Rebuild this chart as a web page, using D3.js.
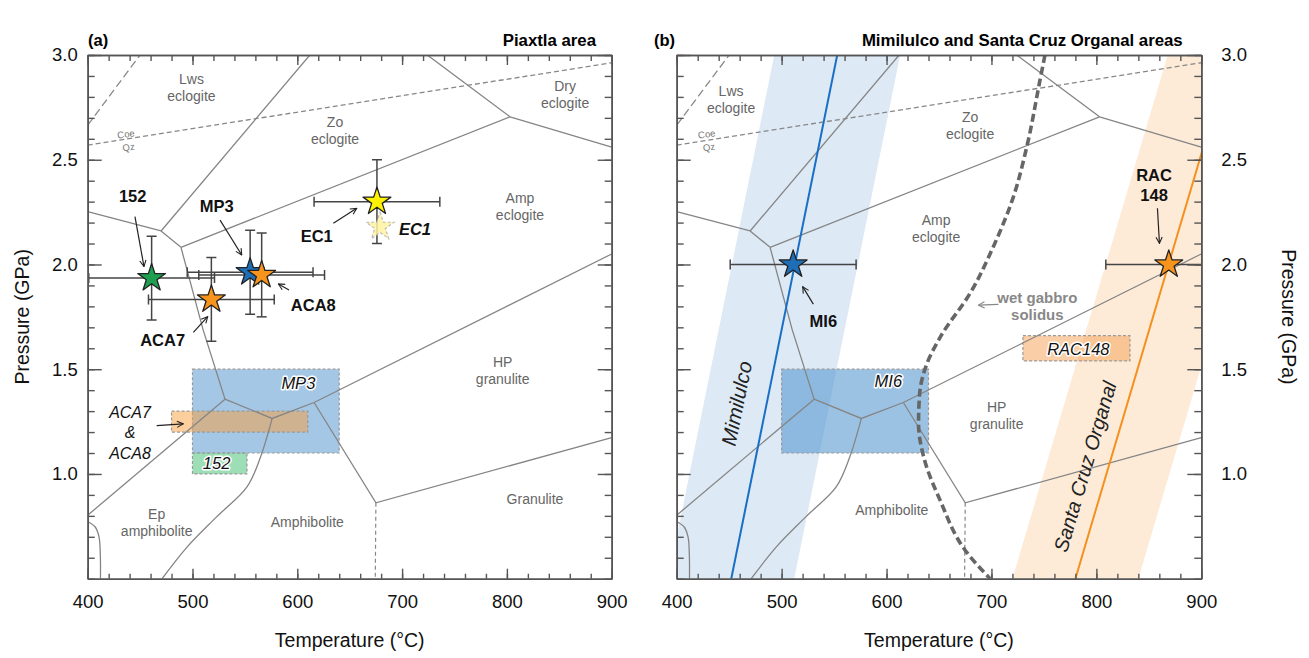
<!DOCTYPE html>
<html>
<head>
<meta charset="utf-8">
<script src="https://cdnjs.cloudflare.com/ajax/libs/d3/7.8.5/d3.min.js"></script>
<style>
  body { margin: 0; background: #fff; }
  svg text { font-family: "Liberation Sans", Arial, Helvetica, sans-serif; }
</style>
</head>
<body>
<svg id="chart" width="1309" height="658"></svg>
<script>
// ---- data (T in °C, P in GPa) ----
const tempTicks = [400, 500, 600, 700, 800, 900];
const pressTicks = [1.0, 1.5, 2.0, 2.5, 3.0];

// facies boundaries
const boundaries = [
  [[400, 2.252], [470, 2.16]],
  [[470, 2.16], [612, 3.0]],
  [[470, 2.16], [489, 2.082]],
  [[489, 2.082], [803, 2.705]],
  [[803, 2.705], [724, 3.0]],
  [[803, 2.705], [900, 2.56]],
  [[489, 2.082], [510, 1.69], [531, 1.357]],
  [[531, 1.357], [400, 0.803]],
  [[531, 1.357], [576, 1.265], [616, 1.341], [900, 2.05]],
  [[616, 1.341], [675, 0.862], [900, 1.174]]
];
const curvedBoundaries = [
  [[576, 1.265], [565, 1.082], [552, 0.938], [523, 0.795], [495, 0.652], [471, 0.5]],
  [[400, 0.772], [407, 0.748], [410.8, 0.7], [412, 0.62], [412.2, 0.5]]
];
const granuliteDashed = [[675, 0.862], [674.4, 0.5]];
const lwsDashed = [[400, 2.665], [450, 3.0]];
const coeQzLine = [[400, 2.57], [900, 2.963]];

const wetSolidus = [[751, 3.0], [746.3, 2.881], [733.7, 2.562], [720.9, 2.323], [701.8, 2.085],
  [679.6, 1.862], [652, 1.66], [638, 1.52], [631.5, 1.38], [630.5, 1.24], [636, 1.07],
  [651, 0.875], [674.9, 0.636], [698.7, 0.5]];

const mimilulcoGeotherm = [[452, 0.5], [553, 3.0]];
const santaCruzGeotherm = [[780, 0.5], [928, 3.0]];
const geothermSpread = 60;

// Piaxtla peak estimates
const piaxtlaNames = ["152", "ACA7", "MP3", "ACA8", "EC1"];
const piaxtlaT = [461, 518, 555, 566, 676];
const piaxtlaP = [1.935, 1.833, 1.963, 1.95, 2.30];
const piaxtlaErrT = [60, 60, 60, 60, 60];
const piaxtlaErrP = [0.2, 0.2, 0.2, 0.2, 0.2];
const ec1AltT = 679, ec1AltP = 2.18;

// Mimilulco / Santa Cruz Organal peak estimates
const otherNames = ["MI6", "RAC148"];
const otherT = [511, 869];
const otherP = [2.0, 2.0];
const otherErrT = [60, 60];

// retrograde boxes
const boxNamesA = ["MP3", "ACA7 & ACA8", "152"];
const boxTminA = [500, 480, 500], boxTmaxA = [640, 610, 552];
const boxPminA = [1.1, 1.2, 1.0], boxPmaxA = [1.5, 1.3, 1.1];
const boxNamesB = ["MI6", "RAC148"];
const boxTminB = [500, 730], boxTmaxB = [640, 832];
const boxPminB = [1.1, 1.54], boxPmaxB = [1.5, 1.66];

// ---- styles ----
const sampleColor = { "152": "#1e9e4f", "ACA7": "#f7941d", "MP3": "#1f6fb8", "ACA8": "#f7941d",
  "EC1": "#fff200", "MI6": "#1f6fb8", "RAC148": "#f7941d" };
const boxFill = { "MP3": "rgba(74,144,204,0.5)", "ACA7 & ACA8": "rgba(250,160,60,0.5)",
  "152": "rgba(60,190,110,0.5)", "MI6": "rgba(74,144,204,0.55)", "RAC148": "rgba(245,160,80,0.5)" };

// ---- layout ----
const y = d3.scaleLinear().domain([0.5, 3.0]).range([578.7, 55]);
const xA = d3.scaleLinear().domain([400, 900]).range([87.7, 611.7]);
const xB = d3.scaleLinear().domain([400, 900]).range([676.7, 1201.3]);

const svg = d3.select("#chart");
const defs = svg.append("defs");
function marker(id, color) {
  defs.append("marker").attr("id", id)
    .attr("viewBox", "0 0 10 10").attr("refX", 9).attr("refY", 5)
    .attr("markerWidth", 6.5).attr("markerHeight", 6.5).attr("orient", "auto")
    .append("path").attr("d", "M1,1 L9,5 L1,9")
    .attr("fill", "none").attr("stroke", color).attr("stroke-width", 1.4);
}
marker("arrowK", "#222");
marker("arrowG", "#888");

[["clipA", xA], ["clipB", xB]].forEach(([id, x]) => {
  defs.append("clipPath").attr("id", id).append("rect")
    .attr("x", x(400)).attr("y", y(3.0))
    .attr("width", x(900) - x(400)).attr("height", y(0.5) - y(3.0));
});

const starPath = d3.symbol().type(d3.symbolStar).size(240)();

function lineGen(x, curve) {
  return d3.line().x(d => x(d[0])).y(d => y(d[1])).curve(curve || d3.curveLinear);
}

function multiLineText(g, lines, px, py, opts) {
  const t = g.append("text")
    .attr("x", px).attr("y", py)
    .attr("text-anchor", "middle")
    .attr("font-size", opts.size)
    .attr("fill", opts.color || "#111")
    .attr("font-weight", opts.weight || "normal")
    .attr("font-style", opts.style || "normal");
  const lh = opts.lh || opts.size * 1.22;
  lines.forEach((s, i) => {
    t.append("tspan").attr("x", px)
      .attr("y", py + (i - (lines.length - 1) / 2) * lh)
      .attr("dy", "0.35em").text(s);
  });
  return t;
}

function haloText(g, text, px, py) {
  g.append("text").attr("x", px).attr("y", py).attr("dy", "0.35em")
    .attr("text-anchor", "middle").attr("font-size", 16.5).attr("font-style", "italic")
    .attr("fill", "#111").attr("stroke", "#fff").attr("stroke-width", 3)
    .attr("paint-order", "stroke").attr("stroke-linejoin", "round")
    .text(text);
}

function drawBoxes(g, x, names, tmin, tmax, pmin, pmax) {
  names.forEach((n, i) => {
    g.append("rect")
      .attr("x", x(tmin[i])).attr("y", y(pmax[i]))
      .attr("width", x(tmax[i]) - x(tmin[i])).attr("height", y(pmin[i]) - y(pmax[i]))
      .attr("fill", boxFill[n]).attr("stroke", "#9a9a9a")
      .attr("stroke-width", 1.2).attr("stroke-dasharray", "3,2");
  });
}

function drawFacies(g, x) {
  const lg = lineGen(x);
  boundaries.forEach(b => g.append("path").attr("d", lg(b))
    .attr("fill", "none").attr("stroke", "#858585").attr("stroke-width", 1.3));
  curvedBoundaries.forEach(b => g.append("path").attr("d", lineGen(x, d3.curveCatmullRom)(b))
    .attr("fill", "none").attr("stroke", "#858585").attr("stroke-width", 1.3));
  g.append("path").attr("d", lg(granuliteDashed)).attr("fill", "none")
    .attr("stroke", "#888").attr("stroke-width", 1.2).attr("stroke-dasharray", "4,3");
  g.append("path").attr("d", lg(lwsDashed)).attr("fill", "none")
    .attr("stroke", "#888").attr("stroke-width", 1.3).attr("stroke-dasharray", "8,4");
  g.append("path").attr("d", lg(coeQzLine)).attr("fill", "none")
    .attr("stroke", "#888").attr("stroke-width", 1.3).attr("stroke-dasharray", "5,3");
}

function drawCoeQz(g, x, tCoe, tQz) {
  const a = Math.atan2(y(coeQzLine[1][1]) - y(coeQzLine[0][1]),
    x(coeQzLine[1][0]) - x(coeQzLine[0][0])) * 180 / Math.PI;
  [["Coe", tCoe, 2.622], ["Qz", tQz, 2.56]].forEach(([s, t, p]) => {
    g.append("text").attr("transform", `translate(${x(t)},${y(p)}) rotate(${a})`)
      .attr("text-anchor", "middle").attr("dy", "0.35em")
      .attr("font-size", 9.5).attr("fill", "#777").text(s);
  });
}

function drawErrT(g, x, t, p, e) {
  const yy = y(p);
  g.append("line").attr("x1", x(t - e)).attr("x2", x(t + e)).attr("y1", yy).attr("y2", yy)
    .attr("stroke", "#444").attr("stroke-width", 1.5);
  [t - e, t + e].forEach(v => g.append("line").attr("x1", x(v)).attr("x2", x(v))
    .attr("y1", yy - 5).attr("y2", yy + 5).attr("stroke", "#444").attr("stroke-width", 1.5));
}
function drawErrP(g, x, t, p, e) {
  const xx = x(t);
  g.append("line").attr("x1", xx).attr("x2", xx).attr("y1", y(p - e)).attr("y2", y(p + e))
    .attr("stroke", "#444").attr("stroke-width", 1.5);
  [p - e, p + e].forEach(v => g.append("line").attr("y1", y(v)).attr("y2", y(v))
    .attr("x1", xx - 5).attr("x2", xx + 5).attr("stroke", "#444").attr("stroke-width", 1.5));
}
function drawStar(g, x, t, p, fill) {
  g.append("path").attr("d", starPath)
    .attr("transform", `translate(${x(t)},${y(p)})`)
    .attr("fill", fill).attr("stroke", "#222").attr("stroke-width", 1.3)
    .attr("stroke-linejoin", "round");
}
function arrow(g, x, t1, p1, t2, p2, gray) {
  g.append("line").attr("x1", x(t1)).attr("y1", y(p1)).attr("x2", x(t2)).attr("y2", y(p2))
    .attr("stroke", gray ? "#888" : "#222").attr("stroke-width", 1.2)
    .attr("marker-end", gray ? "url(#arrowG)" : "url(#arrowK)");
}

function drawAxes(g, x, leftLabels, rightLabels) {
  const style = sel => {
    sel.selectAll("path.domain").attr("stroke", "#555").attr("stroke-width", 1.6);
    sel.selectAll(".tick line").attr("stroke", "#555").attr("stroke-width", 1.4);
    sel.selectAll(".tick text").attr("font-size", 18.5).attr("fill", "#111")
      .attr("font-family", "Liberation Sans, Arial, sans-serif");
  };
  const minorT = d3.range(400, 901, 20);
  const minorP = d3.range(0.5, 3.01, 0.1);
  const bottom = y(0.5), top = y(3.0), left = x(400), right = x(900);

  g.append("g").attr("transform", `translate(0,${bottom})`)
    .call(d3.axisBottom(x).tickValues(minorT).tickSize(-5).tickSizeOuter(0).tickFormat(""))
    .call(style);
  g.append("g").attr("transform", `translate(0,${bottom})`)
    .call(d3.axisBottom(x).tickValues(tempTicks).tickSize(-10).tickSizeOuter(0).tickPadding(16))
    .call(style);
  g.append("g").attr("transform", `translate(0,${top})`)
    .call(d3.axisTop(x).tickValues(minorT).tickSize(-6).tickSizeOuter(0).tickFormat(""))
    .call(style);
  g.append("g").attr("transform", `translate(0,${top})`)
    .call(d3.axisTop(x).tickValues(tempTicks).tickSize(-10).tickSizeOuter(0).tickFormat(""))
    .call(style);

  [[left, d3.axisLeft, leftLabels], [right, d3.axisRight, rightLabels]].forEach(([pos, ax, lab]) => {
    g.append("g").attr("transform", `translate(${pos},0)`)
      .call(ax(y).tickValues(minorP).tickSize(-7).tickSizeOuter(0).tickFormat(""))
      .call(style);
    g.append("g").attr("transform", `translate(${pos},0)`)
      .call(ax(y).tickValues(pressTicks).tickSize(-14).tickSizeOuter(0)
        .tickPadding(lab ? (ax === d3.axisLeft ? 10 : 20) : 0)
        .tickFormat(lab ? d3.format(".1f") : ""))
      .call(style);
  });
}

function drawBand(g, x, geo, fill) {
  const poly = [[geo[0][0] - geothermSpread, geo[0][1]], [geo[1][0] - geothermSpread, geo[1][1]],
    [geo[1][0] + geothermSpread, geo[1][1]], [geo[0][0] + geothermSpread, geo[0][1]]];
  g.append("path").attr("d", lineGen(x)(poly) + "Z").attr("fill", fill);
}

// ================= panel (a) =================
const gA = svg.append("g");
const plotA = gA.append("g").attr("clip-path", "url(#clipA)");
drawBoxes(plotA, xA, boxNamesA, boxTminA, boxTmaxA, boxPminA, boxPmaxA);
drawFacies(plotA, xA);
drawCoeQz(plotA, xA, 436.5, 439);

const faciesLabelsA = [
  [["Lws", "eclogite"], 499, 2.842], [["Zo", "eclogite"], 636, 2.638],
  [["Dry", "eclogite"], 855.5, 2.809], [["Amp", "eclogite"], 812.5, 2.276],
  [["HP", "granulite"], 796, 1.494], [["Granulite"], 826.8, 0.879],
  [["Ep", "amphibolite"], 465.8, 0.768], [["Amphibolite"], 609.5, 0.769]
];
faciesLabelsA.forEach(([l, t, p]) => multiLineText(plotA, l, xA(t), y(p), { size: 14, color: "#666", lh: 17 }));

haloText(plotA, "MP3", xA(601), y(1.433));
haloText(plotA, "152", xA(523), y(1.051));

piaxtlaNames.forEach((n, i) => {
  drawErrT(plotA, xA, piaxtlaT[i], piaxtlaP[i], piaxtlaErrT[i]);
  drawErrP(plotA, xA, piaxtlaT[i], piaxtlaP[i], piaxtlaErrP[i]);
});
// alternative EC1 estimate
plotA.append("path").attr("d", starPath)
  .attr("transform", `translate(${xA(ec1AltT)},${y(ec1AltP)})`)
  .attr("fill", "#fff3a0").attr("fill-opacity", 0.85)
  .attr("stroke", "#bbb").attr("stroke-width", 1.2).attr("stroke-dasharray", "3,2");
piaxtlaNames.forEach((n, i) => drawStar(plotA, xA, piaxtlaT[i], piaxtlaP[i], sampleColor[n]));

const boldA = [
  ["152", 442.9, 2.324], ["MP3", 523.1, 2.279], ["EC1", 618.5, 2.136],
  ["ACA8", 615.3, 1.807], ["ACA7", 471.5, 1.64]
];
boldA.forEach(([s, t, p]) => multiLineText(gA, [s], xA(t), y(p), { size: 16.5, weight: "bold" }));
multiLineText(gA, ["EC1"], xA(712.3), y(2.168), { size: 16.5, weight: "bold", style: "italic" });
multiLineText(gA, ["ACA7", "&", "ACA8"], xA(440.4), y(1.198), { size: 16, style: "italic", lh: 20.5 });
arrow(gA, xA, 445.1, 2.228, 453.7, 1.99);
arrow(gA, xA, 526.3, 2.212, 547, 2.045);
arrow(gA, xA, 634.4, 2.197, 656.7, 2.268);
arrow(gA, xA, 592.1, 1.878, 581.9, 1.907);
arrow(gA, xA, 500.8, 1.676, 514.5, 1.751);
arrow(gA, xA, 465.8, 1.231, 491.2, 1.239);

drawAxes(gA, xA, true, false);
gA.append("text").attr("x", 88).attr("y", 46).attr("font-size", 16.5).attr("font-weight", "bold").text("(a)");
gA.append("text").attr("x", 596).attr("y", 46).attr("text-anchor", "end")
  .attr("font-size", 16.8).attr("font-weight", "bold").text("Piaxtla area");
gA.append("text").attr("x", (xA(400) + xA(900)) / 2).attr("y", 647).attr("text-anchor", "middle")
  .attr("font-size", 19.5).attr("fill", "#111").text("Temperature (°C)");
gA.append("text").attr("transform", `translate(29,${(y(0.5) + y(3.0)) / 2}) rotate(-90)`)
  .attr("text-anchor", "middle").attr("font-size", 19.5).attr("fill", "#111").text("Pressure (GPa)");

// ================= panel (b) =================
const gB = svg.append("g");
const plotB = gB.append("g").attr("clip-path", "url(#clipB)");
drawBand(plotB, xB, mimilulcoGeotherm, "#dde9f5");
drawBand(plotB, xB, santaCruzGeotherm, "#fdebd8");
drawBoxes(plotB, xB, boxNamesB, boxTminB, boxTmaxB, boxPminB, boxPmaxB);
drawFacies(plotB, xB);
drawCoeQz(plotB, xB, 428.6, 430.8);
plotB.append("path").attr("d", lineGen(xB, d3.curveMonotoneY)(wetSolidus))
  .attr("fill", "none").attr("stroke", "#666").attr("stroke-width", 3.6).attr("stroke-dasharray", "8,4");
plotB.append("path").attr("d", lineGen(xB)(mimilulcoGeotherm)).attr("fill", "none")
  .attr("stroke", "#1a6fc4").attr("stroke-width", 2);
plotB.append("path").attr("d", lineGen(xB)(santaCruzGeotherm)).attr("fill", "none")
  .attr("stroke", "#f5901e").attr("stroke-width", 2);

const faciesLabelsB = [
  [["Lws", "eclogite"], 451.8, 2.785], [["Zo", "eclogite"], 679.6, 2.664],
  [["Amp", "eclogite"], 647.2, 2.172], [["HP", "granulite"], 705, 1.279],
  [["Amphibolite"], 605, 0.828]
];
faciesLabelsB.forEach(([l, t, p]) => multiLineText(plotB, l, xB(t), y(p), { size: 14, color: "#666", lh: 17 }));

haloText(plotB, "MI6", xB(601.7), y(1.443));
haloText(plotB, "RAC148", xB(782.8), y(1.595));

function geoLabel(g, geo, text, t, p, size) {
  const a = Math.atan2(y(geo[1][1]) - y(geo[0][1]), xB(geo[1][0]) - xB(geo[0][0])) * 180 / Math.PI;
  g.append("text").attr("transform", `translate(${xB(t)},${y(p)}) rotate(${a})`)
    .attr("text-anchor", "middle").attr("dy", "0.35em")
    .attr("font-size", size).attr("font-style", "italic").attr("fill", "#222").text(text);
}
geoLabel(plotB, mimilulcoGeotherm, "Mimilulco", 457.2, 1.337, 20.5);
geoLabel(plotB, santaCruzGeotherm, "Santa Cruz Organal", 789.2, 1.035, 20);

otherNames.forEach((n, i) => drawErrT(plotB, xB, otherT[i], otherP[i], otherErrT[i]));
otherNames.forEach((n, i) => drawStar(plotB, xB, otherT[i], otherP[i], sampleColor[n]));

multiLineText(gB, ["MI6"], xB(539.8), y(1.727), { size: 16.5, weight: "bold" });
multiLineText(gB, ["RAC", "148"], xB(855), y(2.376), { size: 16.5, weight: "bold", lh: 20 });
multiLineText(gB, ["wet gabbro", "solidus"], xB(743.7), y(1.8), { size: 15, weight: "bold", color: "#888", lh: 17 });
arrow(gB, xB, 530.2, 1.811, 520.1, 1.894);
arrow(gB, xB, 858.2, 2.268, 860.1, 2.101);
arrow(gB, xB, 706.6, 1.81, 687.5, 1.806, true);

drawAxes(gB, xB, false, true);
gB.append("text").attr("x", 654).attr("y", 46).attr("font-size", 16.5).attr("font-weight", "bold").text("(b)");
gB.append("text").attr("x", 1182.7).attr("y", 46).attr("text-anchor", "end")
  .attr("font-size", 16.8).attr("font-weight", "bold").text("Mimilulco and Santa Cruz Organal areas");
gB.append("text").attr("x", (xB(400) + xB(900)) / 2).attr("y", 647).attr("text-anchor", "middle")
  .attr("font-size", 19.5).attr("fill", "#111").text("Temperature (°C)");
gB.append("text").attr("transform", `translate(1282,${(y(0.5) + y(3.0)) / 2}) rotate(90)`)
  .attr("text-anchor", "middle").attr("font-size", 19.5).attr("fill", "#111").text("Pressure (GPa)");
</script>
</body>
</html>
